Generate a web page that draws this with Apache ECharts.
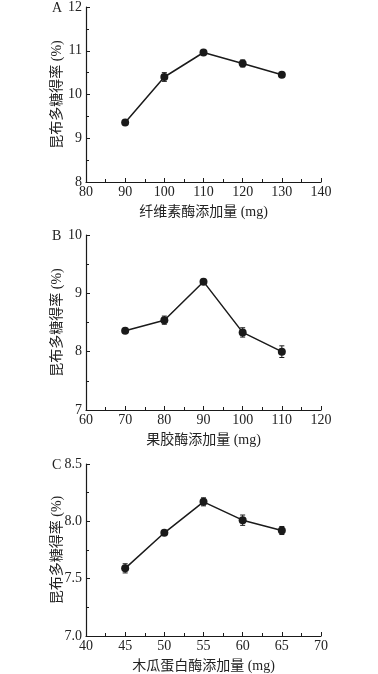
<!DOCTYPE html>
<html>
<head>
<meta charset="utf-8">
<script src="https://cdn.jsdelivr.net/npm/echarts@6/dist/echarts.min.js"></script>
<style>
html,body{margin:0;padding:0;background:#fff;}
#chart{width:378px;height:674px;}
</style>
</head>
<body>
<div id="chart"></div>
<script>
// Panel A: cellulase
const xA = [90, 100, 110, 120, 130];
const yA = [9.36, 10.40, 10.96, 10.71, 10.45];
const eA = [0.05, 0.10, 0.03, 0.08, 0.05];
const xRangeA = [80, 140, 10];
const yRangeA = [8, 12, 1];
const xNameA = '纤维素酶添加量 (mg)';

// Panel B: pectinase
const xB = [70, 80, 90, 100, 110];
const yB = [8.36, 8.54, 9.20, 8.33, 8.00];
const eB = [0.03, 0.07, 0.04, 0.08, 0.10];
const xRangeB = [60, 120, 10];
const yRangeB = [7, 10, 1];
const xNameB = '果胶酶添加量 (mg)';

// Panel C: papain
const xC = [45, 50, 55, 60, 65];
const yC = [7.59, 7.90, 8.17, 8.01, 7.92];
const eC = [0.04, 0.015, 0.035, 0.045, 0.035];
const xRangeC = [40, 70, 5];
const yRangeC = [7.0, 8.5, 0.5];
const xNameC = '木瓜蛋白酶添加量 (mg)';

const yName = '昆布多糖得率 (%)';
const letters = ['A', 'B', 'C'];

const FONT = '"Liberation Serif", "Times New Roman", "Noto Sans CJK SC", serif';
const INK = '#1a1a1a';
const TXT = '#222';

const panels = [
  {x: xA, y: yA, e: eA, xr: xRangeA, yr: yRangeA, xn: xNameA, top: 7, dec: 0},
  {x: xB, y: yB, e: eB, xr: xRangeB, yr: yRangeB, xn: xNameB, top: 235, dec: 0},
  {x: xC, y: yC, e: eC, xr: xRangeC, yr: yRangeC, xn: xNameC, top: 464, dec: 1}
];
const heights = [175, 175, 174];

const grid = [], xAxis = [], yAxis = [], series = [], graphic = [];
panels.forEach((p, i) => {
  grid.push({left: 86, width: 235, top: p.top, height: heights[i]});
  xAxis.push({
    type: 'value', gridIndex: i, min: p.xr[0], max: p.xr[1], interval: p.xr[2],
    name: p.xn, nameLocation: 'middle', nameGap: 23, nameMoveOverlap: false,
    nameTextStyle: {fontFamily: FONT, fontSize: 14, color: TXT},
    axisLine: {show: true, onZero: false, lineStyle: {color: INK, width: 1.2}},
    axisTick: {show: true, inside: true, length: 4, lineStyle: {color: INK}},
    minorTick: {show: true, splitNumber: 2, length: 3, lineStyle: {color: INK}},
    axisLabel: {fontFamily: FONT, fontSize: 14, color: TXT, margin: 3},
    splitLine: {show: false}
  });
  yAxis.push({
    type: 'value', gridIndex: i, min: p.yr[0], max: p.yr[1], interval: p.yr[2],
    name: yName, nameLocation: 'middle', nameGap: 22, nameRotate: 90, nameMoveOverlap: false,
    nameTextStyle: {fontFamily: FONT, fontSize: 14, color: TXT},
    axisLine: {show: true, onZero: false, lineStyle: {color: INK, width: 1.2}},
    axisTick: {show: true, inside: true, length: 4, lineStyle: {color: INK}},
    minorTick: {show: true, splitNumber: 2, length: 3, lineStyle: {color: INK}},
    axisLabel: {fontFamily: FONT, fontSize: 14, color: TXT, margin: 4,
      formatter: v => v.toFixed(p.dec)},
    splitLine: {show: false}
  });
  series.push({
    type: 'line', xAxisIndex: i, yAxisIndex: i,
    data: p.x.map((v, k) => [v, p.y[k]]),
    symbol: 'circle', symbolSize: 8,
    lineStyle: {color: INK, width: 1.5},
    itemStyle: {color: INK},
    z: 3
  });
  series.push({
    type: 'custom', xAxisIndex: i, yAxisIndex: i,
    data: p.x.map((v, k) => [v, p.y[k], p.e[k]]),
    renderItem: function (params, api) {
      const x = api.value(0), y = api.value(1), e = api.value(2);
      const t = api.coord([x, y + e]);
      const b = api.coord([x, y - e]);
      const w = 2.5;
      const st = {stroke: INK, lineWidth: 1};
      return {type: 'group', children: [
        {type: 'line', shape: {x1: t[0], y1: t[1], x2: b[0], y2: b[1]}, style: st},
        {type: 'line', shape: {x1: t[0] - w, y1: t[1], x2: t[0] + w, y2: t[1]}, style: st},
        {type: 'line', shape: {x1: b[0] - w, y1: b[1], x2: b[0] + w, y2: b[1]}, style: st}
      ]};
    },
    z: 4
  });
  graphic.push({
    type: 'text', left: 52, top: p.top - 6,
    style: {text: letters[i], font: '14px ' + FONT, fill: TXT}
  });
});

const chart = echarts.init(document.getElementById('chart'), null, {renderer: 'canvas'});
chart.setOption({
  animation: false,
  backgroundColor: '#fff',
  grid, xAxis, yAxis, series, graphic
});
</script>
</body>
</html>
